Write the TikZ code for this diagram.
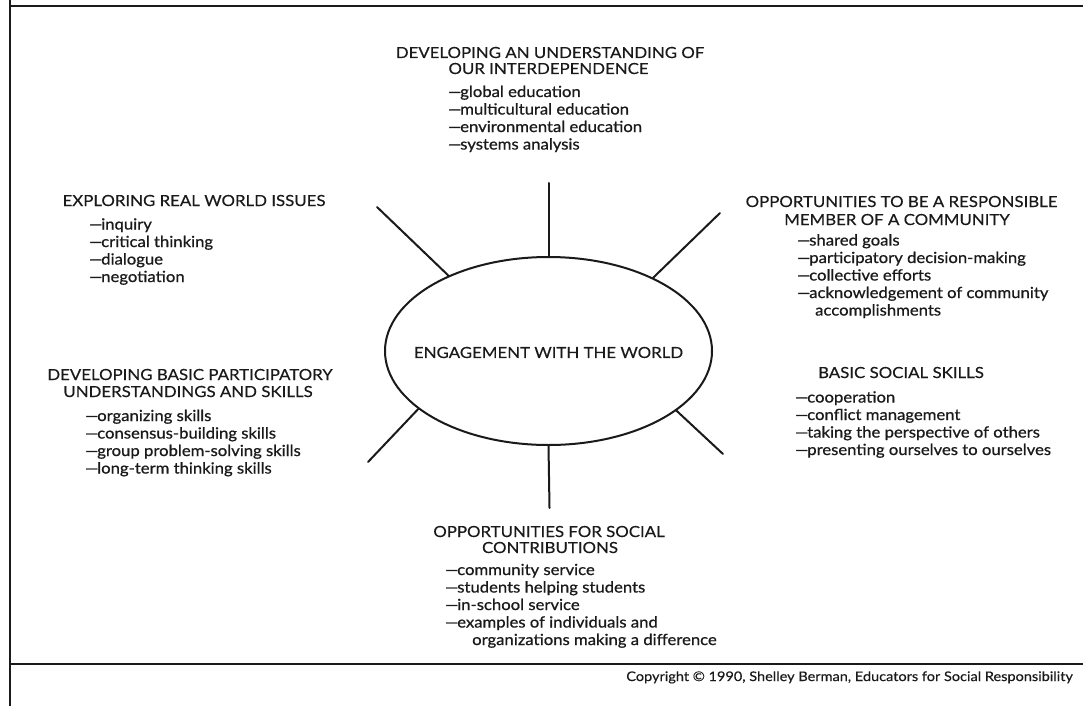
\documentclass[tikz,border=0pt]{standalone}
\usepackage{fontspec}
\setmainfont{Lato}[FakeStretch=1.1]
\newfontfamily\itemfont{Lato}[FakeStretch=1.09, FakeBold=0.7]
\newfontfamily\headfont{Lato}[FakeStretch=1.1, FakeBold=0.3]
\usetikzlibrary{shapes.geometric}
\definecolor{ink}{HTML}{1A1A1A}
\newcommand{\dd}{—\kern-1.2pt}
\tikzset{
  txt/.style={inner sep=0pt, text=ink, font=\headfont\fontsize{15.3}{17}\selectfont},
  head/.style={txt, anchor=base},
  item/.style={inner sep=0pt, text=ink, anchor=base west, font=\itemfont\fontsize{15.3}{17}\selectfont},
  copy/.style={inner sep=0pt, text=ink, anchor=base east, font=\headfont\fontsize{13.2}{15}\selectfont},
  frame/.style={draw=ink, line width=2pt},
  spoke/.style={draw=ink, line width=2pt, line cap=round},
  hub/.style={draw=ink, line width=2pt, ellipse, inner sep=0pt, minimum width=327pt, minimum height=188pt}
}
\begin{document}
\begin{tikzpicture}[x=1pt,y=-1pt]
\useasboundingbox (0,0) rectangle (1083,706);
\fill[white] (0,0) rectangle (1083,706);
% frame
\draw[frame] (10,0) -- (10,706);
\draw[frame] (10,6) -- (1083,6);
\draw[frame] (10,664) -- (1083,664);
% hub
\node[hub] (c) at (548.5,351) {};
\node[txt] (ctext) at (548.5,352.5) {ENGAGEMENT WITH THE WORLD};
% spoke ends
\coordinate (eT) at (548.5,183);
\coordinate (eB) at (549.5,508);
\coordinate (eTL) at (377,207);
\coordinate (eTR) at (720,213);
\coordinate (eBL) at (368,462);
\coordinate (eBR) at (723,454);
\draw[spoke] (c.90) -- (eT);
\draw[spoke] (c.270) -- (eB);
\draw[spoke] (c.143.6) -- (eTL);
\draw[spoke] (c.35.3) -- (eTR);
\draw[spoke] (c.204.7) -- (eBL);
\draw[spoke] (c.335.8) -- (eBR);
% top block
\node[head] (t1) at (550,58) {DEVELOPING AN UNDERSTANDING OF};
\node[head] (t2) at (548.5,74) {OUR INTERDEPENDENCE};
\node[item] (t3) at (448,97) {\dd global education};
\node[item] (t4) at (448,114.5) {\dd multicultural education};
\node[item] (t5) at (448,132) {\dd environmental education};
\node[item] (t6) at (448,149.5) {\dd systems analysis};
% left top block
\node[head] (l1) at (194,206) {EXPLORING REAL WORLD ISSUES};
\node[item] (l2) at (89,229.5) {\dd inquiry};
\node[item] (l3) at (89,247) {\dd critical thinking};
\node[item] (l4) at (89,264.5) {\dd dialogue};
\node[item] (l5) at (89,282) {\dd negotiation};
% right top block
\node[head] (r1) at (901.5,207) {OPPORTUNITIES TO BE A RESPONSIBLE};
\node[head] (r2) at (897,225) {MEMBER OF A COMMUNITY};
\node[item] (r3) at (797,245.5) {\dd shared goals};
\node[item] (r4) at (797,263) {\dd participatory decision-making};
\node[item] (r5) at (797,280.5) {\dd collective efforts};
\node[item] (r6) at (797,298) {\dd acknowledgement of community};
\node[item] (r7) at (815,315.5) {accomplishments};
% left bottom block
\node[head] (p1) at (190,380) {DEVELOPING BASIC PARTICIPATORY};
\node[head] (p2) at (188,397) {UNDERSTANDINGS AND SKILLS};
\node[item] (p3) at (85,421) {\dd organizing skills};
\node[item] (p4) at (85,438.5) {\dd consensus-building skills};
\node[item] (p5) at (85,456) {\dd group problem-solving skills};
\node[item] (p6) at (85,473.5) {\dd long-term thinking skills};
% right bottom block
\node[head] (s1) at (901,378) {BASIC SOCIAL SKILLS};
\node[item] (s2) at (795,402.5) {\dd cooperation};
\node[item] (s3) at (795,420) {\dd conflict management};
\node[item] (s4) at (795,437.5) {\dd taking the perspective of others};
\node[item] (s5) at (795,455) {\dd presenting ourselves to ourselves};
% bottom block
\node[head] (b1) at (549,537) {OPPORTUNITIES FOR SOCIAL};
\node[head] (b2) at (550,553) {CONTRIBUTIONS};
\node[item] (b3) at (445,575) {\dd community service};
\node[item] (b4) at (445,592.5) {\dd students helping students};
\node[item] (b5) at (445,610) {\dd in-school service};
\node[item] (b6) at (445,627.5) {\dd examples of individuals and};
\node[item] (b7) at (472,645) {organizations making a difference};
% copyright
\node[copy] (cr) at (1073,681) {Copyright © 1990, Shelley Berman, Educators for Social Responsibility};
\end{tikzpicture}
\end{document}
